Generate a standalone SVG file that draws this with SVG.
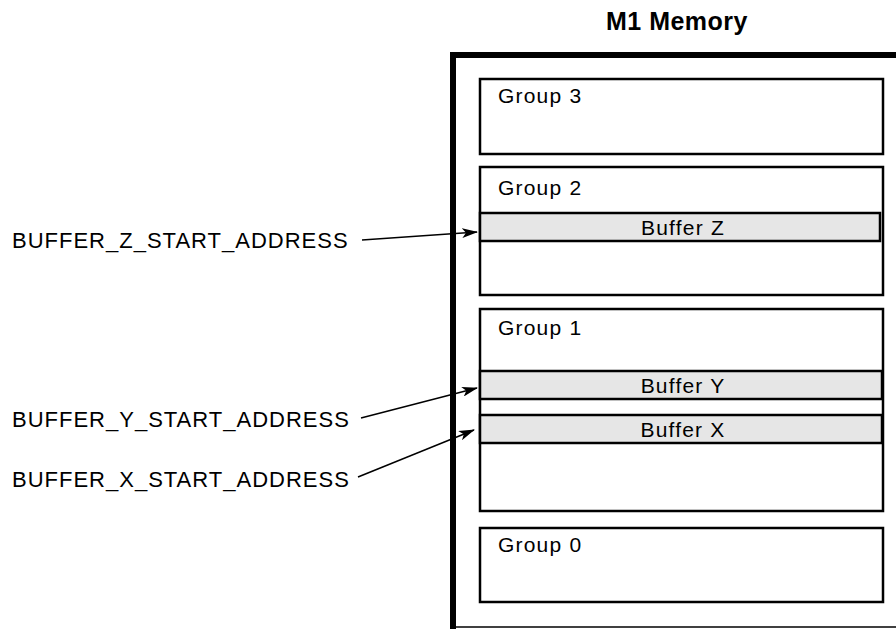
<svg xmlns="http://www.w3.org/2000/svg" width="896" height="629" viewBox="0 0 896 629">
<style>
text{font-family:"Liberation Sans",Arial,sans-serif;fill:#000}
.t{font-size:21px;letter-spacing:1.2px}
.lbl{font-size:22px;letter-spacing:1px}
.grp{fill:#fff;stroke:#000;stroke-width:2.5}
.buf{fill:#e6e6e6;stroke:#000;stroke-width:2.5}
.conn{stroke:#000;stroke-width:1.5;fill:none;marker-end:url(#ah)}
</style>
<defs>
<marker id="ah" markerWidth="16" markerHeight="10" refX="15" refY="5" orient="auto" markerUnits="userSpaceOnUse">
<path d="M0,0 L16,5 L0,10 L4,5 Z" fill="#000"/>
</marker>
</defs>
<rect width="896" height="629" fill="#fff"/>
<text x="677" y="30" text-anchor="middle" font-size="25" font-weight="bold" letter-spacing="0.5">M1 Memory</text>
<g id="memory">
<path d="M453,629 V55 H900" fill="none" stroke="#000" stroke-width="6"/>
<line x1="450" y1="627" x2="900" y2="627" stroke="#000" stroke-width="1.5"/>
</g>
<g id="group3">
<rect class="grp" x="480" y="79" width="403" height="75"/>
<text class="t" x="498" y="103">Group 3</text>
</g>
<g id="group2">
<rect class="grp" x="480" y="167" width="403" height="128"/>
<text class="t" x="498" y="195">Group 2</text>
</g>
<g id="bufferZ">
<rect class="buf" x="480" y="213" width="400" height="28"/>
<text class="t" x="683" y="235" text-anchor="middle">Buffer Z</text>
</g>
<g id="group1">
<rect class="grp" x="480" y="309" width="403" height="202"/>
<text class="t" x="498" y="335">Group 1</text>
</g>
<g id="bufferY">
<rect class="buf" x="480" y="371" width="402" height="28"/>
<text class="t" x="683" y="393" text-anchor="middle">Buffer Y</text>
</g>
<g id="bufferX">
<rect class="buf" x="480" y="415" width="402" height="28"/>
<text class="t" x="683" y="437" text-anchor="middle">Buffer X</text>
</g>
<g id="group0">
<rect class="grp" x="480" y="528" width="403" height="74"/>
<text class="t" x="498" y="552">Group 0</text>
</g>
<g id="labelZ"><text class="lbl" x="12" y="248">BUFFER_Z_START_ADDRESS</text></g>
<g id="labelY"><text class="lbl" x="12" y="427">BUFFER_Y_START_ADDRESS</text></g>
<g id="labelX"><text class="lbl" x="12" y="487">BUFFER_X_START_ADDRESS</text></g>
<g id="connectors">
<line class="conn" x1="362" y1="240" x2="477" y2="232"/>
<line class="conn" x1="361" y1="418" x2="477" y2="388"/>
<line class="conn" x1="358" y1="477" x2="474" y2="430"/>
</g>
</svg>
